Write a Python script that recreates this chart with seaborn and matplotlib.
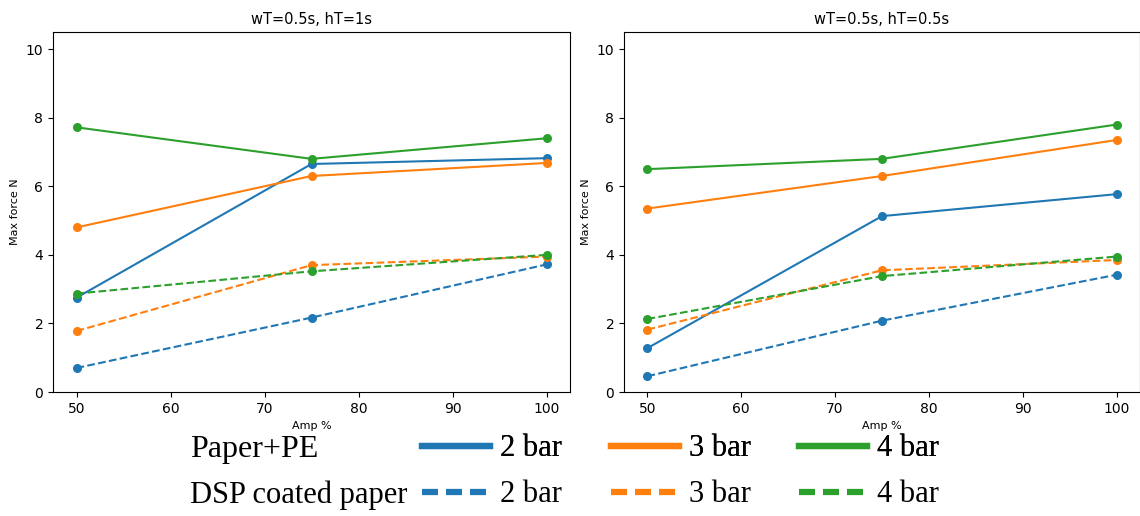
import matplotlib.pyplot as plt
from matplotlib.lines import Line2D
import pandas as pd
import seaborn as sns

amp = [50, 75, 100]
bars = ["2 bar", "3 bar", "4 bar"]
materials = ["Paper+PE", "DSP coated paper"]
titles = ["wT=0.5s, hT=1s", "wT=0.5s, hT=0.5s"]

# panel 1: wT=0.5s, hT=1s
pe_1 = {"2 bar": [2.75, 6.65, 6.82], "3 bar": [4.8, 6.3, 6.68], "4 bar": [7.72, 6.8, 7.4]}
dsp_1 = {"2 bar": [0.7, 2.17, 3.72], "3 bar": [1.78, 3.7, 3.95], "4 bar": [2.87, 3.52, 4.0]}
# panel 2: wT=0.5s, hT=0.5s
pe_2 = {"2 bar": [1.28, 5.13, 5.77], "3 bar": [5.35, 6.3, 7.35], "4 bar": [6.5, 6.8, 7.8]}
dsp_2 = {"2 bar": [0.46, 2.08, 3.42], "3 bar": [1.82, 3.55, 3.85], "4 bar": [2.13, 3.38, 3.95]}

colors = sns.color_palette("tab10", 3)


def make_df(pe, dsp):
    rows = []
    for mat, d in zip(materials, [pe, dsp]):
        for b in bars:
            for a, v in zip(amp, d[b]):
                rows.append({"amp": a, "force": v, "bar": b, "material": mat})
    return pd.DataFrame(rows)


fig = plt.figure(figsize=(11.4, 5.16), dpi=100)
ax1 = fig.add_axes([53 / 1140, 124 / 516, 517 / 1140, 360 / 516])
ax2 = fig.add_axes([624 / 1140, 124 / 516, 516 / 1140, 360 / 516])

for ax, (pe, dsp), title in zip([ax1, ax2], [(pe_1, dsp_1), (pe_2, dsp_2)], titles):
    df = make_df(pe, dsp)
    sns.lineplot(data=df, x="amp", y="force", hue="bar", style="material",
                 hue_order=bars, style_order=materials, palette=colors,
                 markers=["o", "o"], dashes=["", (3.7, 1.6)],
                 markersize=6.5, markeredgewidth=0, linewidth=1.5,
                 legend=False, ax=ax)
    ax.set_ylim(0, 10.5)
    ax.set_xlim(47.5, 102.5)
    ax.set_title(title, fontsize=10.5)
    ax.set_xlabel("Amp %", fontsize=8)
    ax.set_ylabel("Max force N", fontsize=8)
    ax.tick_params(labelsize=10)

serif = {"family": "Liberation Serif", "size": 22}
label_font = {"family": "Liberation Serif", "size": 23}
solid = [Line2D([0], [0], color=c, lw=4.5) for c in colors]
dashed = [Line2D([0], [0], color=c, lw=4.5, ls=(0, (2.56, 1.28))) for c in colors]

row_y = [1 - 449 / 516, 1 - 495 / 516]
leg_kw = dict(ncol=3, loc="center left", frameon=False, prop=serif, borderpad=0,
              borderaxespad=0, handlelength=2.22, columnspacing=1.6, handletextpad=0.33)
leg1 = fig.legend(solid, bars, bbox_to_anchor=(422 / 1140, row_y[0]), **leg_kw)
fig.add_artist(leg1)
fig.legend(dashed, bars, bbox_to_anchor=(422 / 1140, row_y[1]), **leg_kw)

fig.text(190 / 1140, row_y[0], materials[0], va="center", ha="left", fontdict=label_font)
fig.text(190 / 1140, row_y[1], materials[1], va="center", ha="left", fontdict=serif)

plt.savefig("out.png", dpi=100)
